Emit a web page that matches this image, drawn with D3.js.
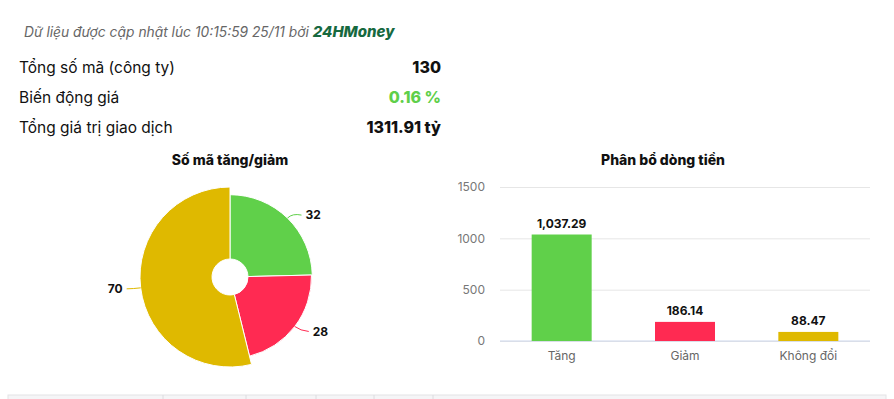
<!DOCTYPE html>
<html>
<head>
<meta charset="utf-8">
<script src="https://cdn.jsdelivr.net/npm/d3@7"></script>
<style>
  body { margin: 0; background: #fff; font-family: Inter, "Noto Sans", sans-serif; }
  #chart { width: 894px; height: 399px; }
</style>
</head>
<body>
<div id="chart"></div>
<script>
// summary rows
var infoLabels = ["Tổng số mã (công ty)", "Biến động giá", "Tổng giá trị giao dịch"];
var infoValues = ["130", "0.16 %", "1311.91 tỷ"];
var infoColors = ["#111", "#5fcf4a", "#111"];

// pie: so ma tang / giam / khong doi
var pieNames = ["Tăng", "Giảm", "Không đổi"];
var pieValues = [32, 28, 70];

// bar: phan bo dong tien
var barCategories = ["Tăng", "Giảm", "Không đổi"];
var barValues = [1037.29, 186.14, 88.47];
var barTicks = [0, 500, 1000, 1500];

var colors = ["#60d04a", "#ff2a52", "#dfb900"];

var width = 894, height = 399;
var svg = d3.select("#chart").append("svg")
    .attr("width", width)
    .attr("height", height);

// header line
var head = svg.append("text")
    .attr("x", 24)
    .attr("y", 37)
    .style("font-style", "italic");
head.append("tspan")
    .attr("font-size", 13.8)
    .attr("fill", "#666")
    .text("Dữ liệu được cập nhật lúc 10:15:59 25/11 bởi ");
head.append("tspan")
    .attr("font-size", 15)
    .attr("font-weight", 800)
    .attr("fill", "#17693f")
    .text("24HMoney");

infoLabels.forEach(function(lbl, i) {
    var y = 73 + i * 30;
    svg.append("text")
        .attr("x", 19).attr("y", y)
        .attr("font-size", 15.5)
        .attr("fill", "#111")
        .text(lbl);
    svg.append("text")
        .attr("x", 441).attr("y", y)
        .attr("text-anchor", "end")
        .attr("font-size", 16)
        .attr("font-weight", 800)
        .attr("fill", infoColors[i])
        .text(infoValues[i]);
});

// ---- pie ----
svg.append("text")
    .attr("x", 230).attr("y", 165)
    .attr("text-anchor", "middle")
    .attr("font-size", 14)
    .attr("font-weight", 800)
    .attr("fill", "#111")
    .text("Số mã tăng/giảm");

var cx = 230, cy = 277;
var pie = d3.pie().sort(null).value(function(d) { return d; });
var rScale = d3.scaleLinear()
    .domain([d3.min(pieValues), d3.max(pieValues)])
    .range([81.5, 90]);

var pg = svg.append("g").attr("transform", "translate(" + cx + "," + cy + ")");
var arcs = pie(pieValues);

pg.selectAll("path.slice")
    .data(arcs)
    .enter()
    .append("path")
    .attr("class", "slice")
    .attr("d", function(d) {
        return d3.arc().innerRadius(18).outerRadius(rScale(d.data))(d);
    })
    .attr("fill", function(d, i) { return colors[i]; })
    .attr("stroke", "#fff")
    .attr("stroke-width", 1);

arcs.forEach(function(d, i) {
    var r = rScale(d.data);
    var a = (d.startAngle + d.endAngle) / 2;
    var ex = Math.sin(a) * r, ey = -Math.cos(a) * r;
    var right = Math.sin(a) > 0;
    var mx = Math.sin(a) * (r + 7), my = -Math.cos(a) * (r + 7);
    var lx = ex + (right ? 18 : -18);
    var ly = ey + (right ? (Math.cos(a) > 0 ? -3 : 5) : 1);
    pg.append("path")
        .attr("d", "M" + ex + "," + ey + "Q" + mx + "," + my + " " + (lx + (right ? -4 : 4)) + "," + ly)
        .attr("fill", "none")
        .attr("stroke", colors[i])
        .attr("stroke-width", 1);
    pg.append("text")
        .attr("x", lx).attr("y", ly)
        .attr("dy", "0.35em")
        .attr("text-anchor", right ? "start" : "end")
        .attr("font-size", 12)
        .attr("font-weight", 700)
        .attr("fill", "#111")
        .text(d.data);
});

// ---- bar ----
svg.append("text")
    .attr("x", 663).attr("y", 165)
    .attr("text-anchor", "middle")
    .attr("font-size", 14)
    .attr("font-weight", 800)
    .attr("fill", "#111")
    .text("Phân bổ dòng tiền");

var x = d3.scaleBand()
    .domain(barCategories)
    .range([500, 870]);
var y = d3.scaleLinear()
    .domain([0, 1500])
    .range([341, 187]);

var yAxis = svg.append("g")
    .attr("transform", "translate(500,0)")
    .call(d3.axisLeft(y).tickValues(barTicks).tickSize(-370).tickPadding(15).tickFormat(d3.format("d")));
yAxis.select(".domain").remove();
yAxis.selectAll(".tick line").attr("stroke", "#e6e6e6");
yAxis.selectAll(".tick text")
    .attr("font-size", 12)
    .attr("fill", "#777")
    .attr("font-family", "Inter, sans-serif");

svg.append("line")
    .attr("x1", 500).attr("x2", 870)
    .attr("y1", y(0)).attr("y2", y(0))
    .attr("stroke", "#ccd6eb");

var bw = 60;
svg.selectAll("rect.bar")
    .data(barValues)
    .enter()
    .append("rect")
    .attr("class", "bar")
    .attr("x", function(d, i) { return x(barCategories[i]) + x.bandwidth() / 2 - bw / 2; })
    .attr("y", function(d) { return y(d); })
    .attr("width", bw)
    .attr("height", function(d) { return y(0) - y(d); })
    .attr("fill", function(d, i) { return colors[i]; });

svg.selectAll("text.val")
    .data(barValues)
    .enter()
    .append("text")
    .attr("class", "val")
    .attr("x", function(d, i) { return x(barCategories[i]) + x.bandwidth() / 2; })
    .attr("y", function(d) { return y(d) - 7; })
    .attr("text-anchor", "middle")
    .attr("font-size", 12)
    .attr("font-weight", 700)
    .attr("fill", "#111")
    .text(function(d) { return d3.format(",.2f")(d); });

svg.selectAll("text.cat")
    .data(barCategories)
    .enter()
    .append("text")
    .attr("class", "cat")
    .attr("x", function(d) { return x(d) + x.bandwidth() / 2; })
    .attr("y", 360)
    .attr("text-anchor", "middle")
    .attr("font-size", 12)
    .attr("fill", "#666")
    .text(function(d) { return d; });

// table header strip at the bottom
svg.append("rect")
    .attr("x", 8).attr("y", 395)
    .attr("width", 878).attr("height", 6)
    .attr("fill", "#f5f5f7")
    .attr("stroke", "#e3e3e6");
[163, 246, 316, 374, 433].forEach(function(px) {
    svg.append("line")
        .attr("x1", px).attr("x2", px)
        .attr("y1", 395).attr("y2", 399)
        .attr("stroke", "#dcdce0");
});
</script>
</body>
</html>
